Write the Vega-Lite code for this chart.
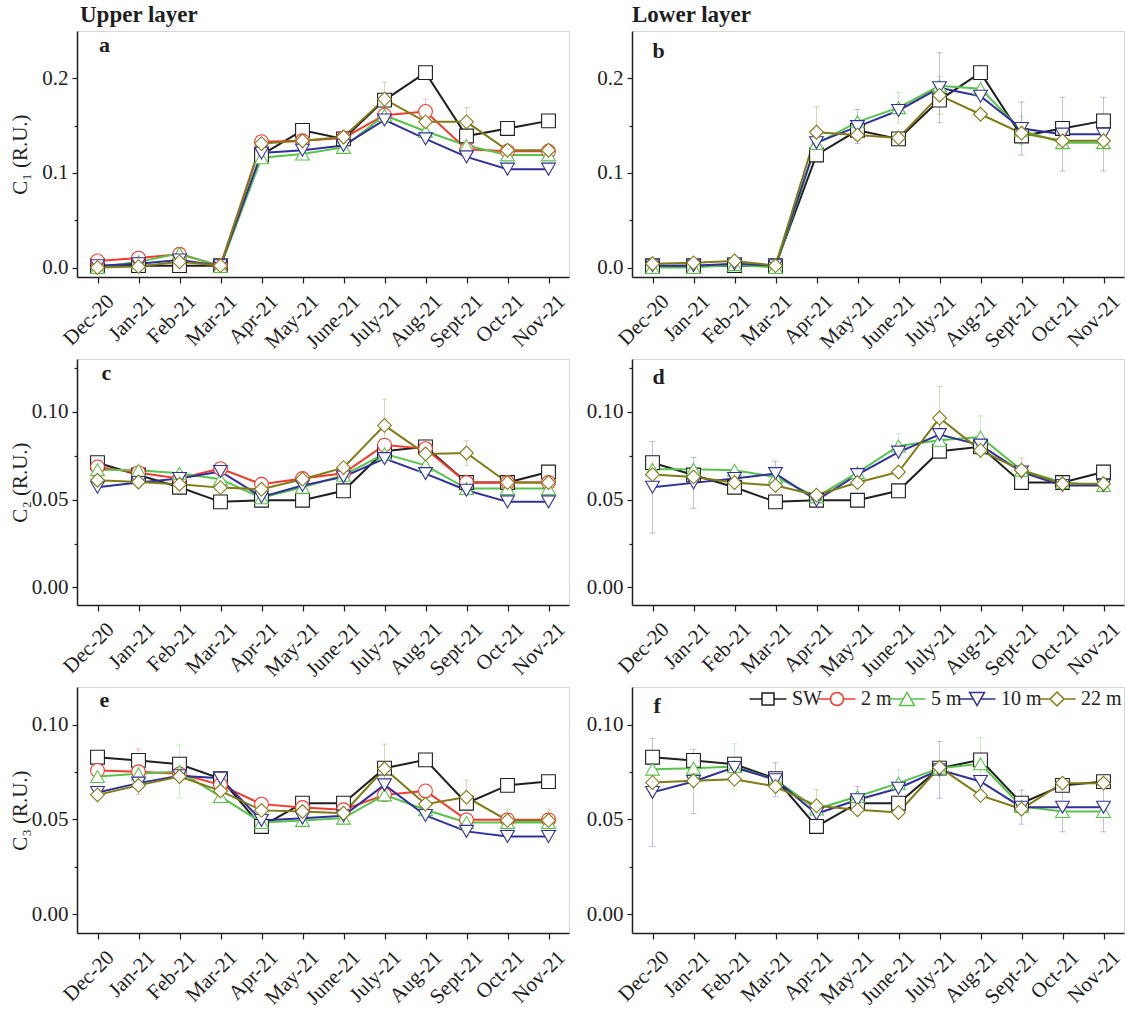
{
  "$schema": "https://vega.github.io/schema/vega-lite/v6.json",
  "padding": {"left": 8, "top": 3, "right": 0, "bottom": 0},
  "spacing": {"row": 5, "column": 15},
  "columns": 2,
  "align": "each",
  "resolve": {"scale": {"color": "independent", "shape": "independent"}},
  "config": {
    "view": {"stroke": "#d6d6d6", "strokeWidth": 1},
    "axis": {
      "labelFont": "Liberation Serif", "labelFontSize": 21, "labelColor": "#1e1e1e",
      "titleFont": "Liberation Serif", "titleFontSize": 21, "titleFontWeight": "normal", "titleColor": "#1e1e1e",
      "domainColor": "#1e1e1e", "domainWidth": 1.5, "tickColor": "#1e1e1e", "tickWidth": 1.2,
      "tickSize": 5, "labelPadding": 4, "grid": false
    },
    "axisX": {"tickSize": 6, "labelAngle": -45, "labelAlign": "right", "labelBaseline": "middle", "labelOffset": 13, "labelPadding": 15},
    "title": {"font": "Liberation Serif", "fontSize": 23, "fontWeight": "bold", "color": "#1e1e1e", "anchor": "start", "frame": "group"},
    "text": {"font": "Liberation Serif", "fontWeight": "bold", "fontSize": 22, "color": "#1e1e1e"}
  },
  "datasets": {
    "vals": [
      {"p":"a","s":"SW","m":"Dec-20","v":0.002},{"p":"a","s":"SW","m":"Jan-21","v":0.002},{"p":"a","s":"SW","m":"Feb-21","v":0.002},{"p":"a","s":"SW","m":"Mar-21","v":0.002},{"p":"a","s":"SW","m":"Apr-21","v":0.119},{"p":"a","s":"SW","m":"May-21","v":0.145},{"p":"a","s":"SW","m":"June-21","v":0.136},{"p":"a","s":"SW","m":"July-21","v":0.177},{"p":"a","s":"SW","m":"Aug-21","v":0.206},{"p":"a","s":"SW","m":"Sept-21","v":0.139},{"p":"a","s":"SW","m":"Oct-21","v":0.147},{"p":"a","s":"SW","m":"Nov-21","v":0.155},
      {"p":"a","s":"2 m","m":"Dec-20","v":0.007},{"p":"a","s":"2 m","m":"Jan-21","v":0.010},{"p":"a","s":"2 m","m":"Feb-21","v":0.014},{"p":"a","s":"2 m","m":"Mar-21","v":0.002},{"p":"a","s":"2 m","m":"Apr-21","v":0.133},{"p":"a","s":"2 m","m":"May-21","v":0.134},{"p":"a","s":"2 m","m":"June-21","v":0.137},{"p":"a","s":"2 m","m":"July-21","v":0.161},{"p":"a","s":"2 m","m":"Aug-21","v":0.165,"e":0.013},{"p":"a","s":"2 m","m":"Sept-21","v":0.125},{"p":"a","s":"2 m","m":"Oct-21","v":0.123},{"p":"a","s":"2 m","m":"Nov-21","v":0.123},
      {"p":"a","s":"5 m","m":"Dec-20","v":0.000},{"p":"a","s":"5 m","m":"Jan-21","v":0.006},{"p":"a","s":"5 m","m":"Feb-21","v":0.015},{"p":"a","s":"5 m","m":"Mar-21","v":0.001},{"p":"a","s":"5 m","m":"Apr-21","v":0.116},{"p":"a","s":"5 m","m":"May-21","v":0.120},{"p":"a","s":"5 m","m":"June-21","v":0.127},{"p":"a","s":"5 m","m":"July-21","v":0.161},{"p":"a","s":"5 m","m":"Aug-21","v":0.144},{"p":"a","s":"5 m","m":"Sept-21","v":0.129},{"p":"a","s":"5 m","m":"Oct-21","v":0.119},{"p":"a","s":"5 m","m":"Nov-21","v":0.119},
      {"p":"a","s":"10 m","m":"Dec-20","v":0.002},{"p":"a","s":"10 m","m":"Jan-21","v":0.004},{"p":"a","s":"10 m","m":"Feb-21","v":0.008},{"p":"a","s":"10 m","m":"Mar-21","v":0.002},{"p":"a","s":"10 m","m":"Apr-21","v":0.121},{"p":"a","s":"10 m","m":"May-21","v":0.124},{"p":"a","s":"10 m","m":"June-21","v":0.129},{"p":"a","s":"10 m","m":"July-21","v":0.156},{"p":"a","s":"10 m","m":"Aug-21","v":0.136},{"p":"a","s":"10 m","m":"Sept-21","v":0.117},{"p":"a","s":"10 m","m":"Oct-21","v":0.104},{"p":"a","s":"10 m","m":"Nov-21","v":0.104},
      {"p":"a","s":"22 m","m":"Dec-20","v":0.000},{"p":"a","s":"22 m","m":"Jan-21","v":0.001},{"p":"a","s":"22 m","m":"Feb-21","v":0.006},{"p":"a","s":"22 m","m":"Mar-21","v":0.002},{"p":"a","s":"22 m","m":"Apr-21","v":0.131},{"p":"a","s":"22 m","m":"May-21","v":0.134},{"p":"a","s":"22 m","m":"June-21","v":0.138},{"p":"a","s":"22 m","m":"July-21","v":0.178,"e":0.018},{"p":"a","s":"22 m","m":"Aug-21","v":0.154},{"p":"a","s":"22 m","m":"Sept-21","v":0.154,"e":0.015},{"p":"a","s":"22 m","m":"Oct-21","v":0.124},{"p":"a","s":"22 m","m":"Nov-21","v":0.124},

      {"p":"b","s":"SW","m":"Dec-20","v":0.002},{"p":"b","s":"SW","m":"Jan-21","v":0.002},{"p":"b","s":"SW","m":"Feb-21","v":0.002},{"p":"b","s":"SW","m":"Mar-21","v":0.002},{"p":"b","s":"SW","m":"Apr-21","v":0.119},{"p":"b","s":"SW","m":"May-21","v":0.145},{"p":"b","s":"SW","m":"June-21","v":0.136},{"p":"b","s":"SW","m":"July-21","v":0.177},{"p":"b","s":"SW","m":"Aug-21","v":0.206},{"p":"b","s":"SW","m":"Sept-21","v":0.139},{"p":"b","s":"SW","m":"Oct-21","v":0.147},{"p":"b","s":"SW","m":"Nov-21","v":0.155},
      {"p":"b","s":"5 m","m":"Dec-20","v":0.000},{"p":"b","s":"5 m","m":"Jan-21","v":0.000},{"p":"b","s":"5 m","m":"Feb-21","v":0.003},{"p":"b","s":"5 m","m":"Mar-21","v":0.000},{"p":"b","s":"5 m","m":"Apr-21","v":0.131},{"p":"b","s":"5 m","m":"May-21","v":0.154},{"p":"b","s":"5 m","m":"June-21","v":0.169,"e":0.016},{"p":"b","s":"5 m","m":"July-21","v":0.192},{"p":"b","s":"5 m","m":"Aug-21","v":0.189,"e":0.025},{"p":"b","s":"5 m","m":"Sept-21","v":0.145,"e":0.015},{"p":"b","s":"5 m","m":"Oct-21","v":0.132},{"p":"b","s":"5 m","m":"Nov-21","v":0.132},
      {"p":"b","s":"10 m","m":"Dec-20","v":0.002},{"p":"b","s":"10 m","m":"Jan-21","v":0.002},{"p":"b","s":"10 m","m":"Feb-21","v":0.004},{"p":"b","s":"10 m","m":"Mar-21","v":0.002},{"p":"b","s":"10 m","m":"Apr-21","v":0.132},{"p":"b","s":"10 m","m":"May-21","v":0.149,"e":0.018},{"p":"b","s":"10 m","m":"June-21","v":0.166},{"p":"b","s":"10 m","m":"July-21","v":0.190,"e":0.037},{"p":"b","s":"10 m","m":"Aug-21","v":0.181},{"p":"b","s":"10 m","m":"Sept-21","v":0.147,"e":0.028},{"p":"b","s":"10 m","m":"Oct-21","v":0.141,"e":0.039},{"p":"b","s":"10 m","m":"Nov-21","v":0.141,"e":0.039},
      {"p":"b","s":"22 m","m":"Dec-20","v":0.004},{"p":"b","s":"22 m","m":"Jan-21","v":0.005},{"p":"b","s":"22 m","m":"Feb-21","v":0.007},{"p":"b","s":"22 m","m":"Mar-21","v":0.002},{"p":"b","s":"22 m","m":"Apr-21","v":0.143,"e":0.027},{"p":"b","s":"22 m","m":"May-21","v":0.140},{"p":"b","s":"22 m","m":"June-21","v":0.137},{"p":"b","s":"22 m","m":"July-21","v":0.182,"e":0.020},{"p":"b","s":"22 m","m":"Aug-21","v":0.162},{"p":"b","s":"22 m","m":"Sept-21","v":0.142},{"p":"b","s":"22 m","m":"Oct-21","v":0.134},{"p":"b","s":"22 m","m":"Nov-21","v":0.134},

      {"p":"c","s":"SW","m":"Dec-20","v":0.071},{"p":"c","s":"SW","m":"Jan-21","v":0.064},{"p":"c","s":"SW","m":"Feb-21","v":0.057},{"p":"c","s":"SW","m":"Mar-21","v":0.0487},{"p":"c","s":"SW","m":"Apr-21","v":0.0496},{"p":"c","s":"SW","m":"May-21","v":0.0496},{"p":"c","s":"SW","m":"June-21","v":0.055},{"p":"c","s":"SW","m":"July-21","v":0.0775},{"p":"c","s":"SW","m":"Aug-21","v":0.080},{"p":"c","s":"SW","m":"Sept-21","v":0.0597},{"p":"c","s":"SW","m":"Oct-21","v":0.0597},{"p":"c","s":"SW","m":"Nov-21","v":0.0657},
      {"p":"c","s":"2 m","m":"Dec-20","v":0.0686},{"p":"c","s":"2 m","m":"Jan-21","v":0.0653},{"p":"c","s":"2 m","m":"Feb-21","v":0.062},{"p":"c","s":"2 m","m":"Mar-21","v":0.0676},{"p":"c","s":"2 m","m":"Apr-21","v":0.0587},{"p":"c","s":"2 m","m":"May-21","v":0.062},{"p":"c","s":"2 m","m":"June-21","v":0.065},{"p":"c","s":"2 m","m":"July-21","v":0.081},{"p":"c","s":"2 m","m":"Aug-21","v":0.079,"e":0.005},{"p":"c","s":"2 m","m":"Sept-21","v":0.0597},{"p":"c","s":"2 m","m":"Oct-21","v":0.0597},{"p":"c","s":"2 m","m":"Nov-21","v":0.0597},
      {"p":"c","s":"5 m","m":"Dec-20","v":0.067},{"p":"c","s":"5 m","m":"Jan-21","v":0.0667},{"p":"c","s":"5 m","m":"Feb-21","v":0.065},{"p":"c","s":"5 m","m":"Mar-21","v":0.0616},{"p":"c","s":"5 m","m":"Apr-21","v":0.051},{"p":"c","s":"5 m","m":"May-21","v":0.057},{"p":"c","s":"5 m","m":"June-21","v":0.0638},{"p":"c","s":"5 m","m":"July-21","v":0.076},{"p":"c","s":"5 m","m":"Aug-21","v":0.0695},{"p":"c","s":"5 m","m":"Sept-21","v":0.0563},{"p":"c","s":"5 m","m":"Oct-21","v":0.0563},{"p":"c","s":"5 m","m":"Nov-21","v":0.0563},
      {"p":"c","s":"10 m","m":"Dec-20","v":0.057},{"p":"c","s":"10 m","m":"Jan-21","v":0.0597},{"p":"c","s":"10 m","m":"Feb-21","v":0.062},{"p":"c","s":"10 m","m":"Mar-21","v":0.066},{"p":"c","s":"10 m","m":"Apr-21","v":0.0515},{"p":"c","s":"10 m","m":"May-21","v":0.058},{"p":"c","s":"10 m","m":"June-21","v":0.0629},{"p":"c","s":"10 m","m":"July-21","v":0.0733},{"p":"c","s":"10 m","m":"Aug-21","v":0.0648},{"p":"c","s":"10 m","m":"Sept-21","v":0.0553},{"p":"c","s":"10 m","m":"Oct-21","v":0.0487},{"p":"c","s":"10 m","m":"Nov-21","v":0.0487},
      {"p":"c","s":"22 m","m":"Dec-20","v":0.061},{"p":"c","s":"22 m","m":"Jan-21","v":0.060},{"p":"c","s":"22 m","m":"Feb-21","v":0.0587},{"p":"c","s":"22 m","m":"Mar-21","v":0.0568},{"p":"c","s":"22 m","m":"Apr-21","v":0.0559},{"p":"c","s":"22 m","m":"May-21","v":0.0616},{"p":"c","s":"22 m","m":"June-21","v":0.0682},{"p":"c","s":"22 m","m":"July-21","v":0.0922,"e":0.015},{"p":"c","s":"22 m","m":"Aug-21","v":0.076},{"p":"c","s":"22 m","m":"Sept-21","v":0.0765,"e":0.007},{"p":"c","s":"22 m","m":"Oct-21","v":0.0597},{"p":"c","s":"22 m","m":"Nov-21","v":0.0597},

      {"p":"d","s":"SW","m":"Dec-20","v":0.071},{"p":"d","s":"SW","m":"Jan-21","v":0.064},{"p":"d","s":"SW","m":"Feb-21","v":0.057},{"p":"d","s":"SW","m":"Mar-21","v":0.0487},{"p":"d","s":"SW","m":"Apr-21","v":0.0496},{"p":"d","s":"SW","m":"May-21","v":0.0496},{"p":"d","s":"SW","m":"June-21","v":0.055},{"p":"d","s":"SW","m":"July-21","v":0.0775},{"p":"d","s":"SW","m":"Aug-21","v":0.080},{"p":"d","s":"SW","m":"Sept-21","v":0.0597},{"p":"d","s":"SW","m":"Oct-21","v":0.0597},{"p":"d","s":"SW","m":"Nov-21","v":0.0657},
      {"p":"d","s":"5 m","m":"Dec-20","v":0.0672},{"p":"d","s":"5 m","m":"Jan-21","v":0.0672},{"p":"d","s":"5 m","m":"Feb-21","v":0.0667},{"p":"d","s":"5 m","m":"Mar-21","v":0.0629},{"p":"d","s":"5 m","m":"Apr-21","v":0.0515},{"p":"d","s":"5 m","m":"May-21","v":0.0653},{"p":"d","s":"5 m","m":"June-21","v":0.0805,"e":0.007},{"p":"d","s":"5 m","m":"July-21","v":0.0837},{"p":"d","s":"5 m","m":"Aug-21","v":0.0856,"e":0.012},{"p":"d","s":"5 m","m":"Sept-21","v":0.0667},{"p":"d","s":"5 m","m":"Oct-21","v":0.0597},{"p":"d","s":"5 m","m":"Nov-21","v":0.058},
      {"p":"d","s":"10 m","m":"Dec-20","v":0.057,"e":0.026},{"p":"d","s":"10 m","m":"Jan-21","v":0.0595,"e":0.0145},{"p":"d","s":"10 m","m":"Feb-21","v":0.062},{"p":"d","s":"10 m","m":"Mar-21","v":0.0648,"e":0.007},{"p":"d","s":"10 m","m":"Apr-21","v":0.0496},{"p":"d","s":"10 m","m":"May-21","v":0.0642},{"p":"d","s":"10 m","m":"June-21","v":0.077},{"p":"d","s":"10 m","m":"July-21","v":0.087,"e":0.010},{"p":"d","s":"10 m","m":"Aug-21","v":0.081},{"p":"d","s":"10 m","m":"Sept-21","v":0.0657},{"p":"d","s":"10 m","m":"Oct-21","v":0.058},{"p":"d","s":"10 m","m":"Nov-21","v":0.058},
      {"p":"d","s":"22 m","m":"Dec-20","v":0.0642},{"p":"d","s":"22 m","m":"Jan-21","v":0.0629},{"p":"d","s":"22 m","m":"Feb-21","v":0.0597},{"p":"d","s":"22 m","m":"Mar-21","v":0.058},{"p":"d","s":"22 m","m":"Apr-21","v":0.0525},{"p":"d","s":"22 m","m":"May-21","v":0.0597},{"p":"d","s":"22 m","m":"June-21","v":0.0657},{"p":"d","s":"22 m","m":"July-21","v":0.0964,"e":0.018},{"p":"d","s":"22 m","m":"Aug-21","v":0.078},{"p":"d","s":"22 m","m":"Sept-21","v":0.0667,"e":0.007},{"p":"d","s":"22 m","m":"Oct-21","v":0.059},{"p":"d","s":"22 m","m":"Nov-21","v":0.059},

      {"p":"e","s":"SW","m":"Dec-20","v":0.0829},{"p":"e","s":"SW","m":"Jan-21","v":0.0812},{"p":"e","s":"SW","m":"Feb-21","v":0.0792},{"p":"e","s":"SW","m":"Mar-21","v":0.0716},{"p":"e","s":"SW","m":"Apr-21","v":0.0463},{"p":"e","s":"SW","m":"May-21","v":0.0586},{"p":"e","s":"SW","m":"June-21","v":0.0586},{"p":"e","s":"SW","m":"July-21","v":0.0771},{"p":"e","s":"SW","m":"Aug-21","v":0.0815},{"p":"e","s":"SW","m":"Sept-21","v":0.0586},{"p":"e","s":"SW","m":"Oct-21","v":0.068},{"p":"e","s":"SW","m":"Nov-21","v":0.070},
      {"p":"e","s":"2 m","m":"Dec-20","v":0.0759},{"p":"e","s":"2 m","m":"Jan-21","v":0.0752,"e":0.012},{"p":"e","s":"2 m","m":"Feb-21","v":0.0741},{"p":"e","s":"2 m","m":"Mar-21","v":0.0683},{"p":"e","s":"2 m","m":"Apr-21","v":0.0581},{"p":"e","s":"2 m","m":"May-21","v":0.0563},{"p":"e","s":"2 m","m":"June-21","v":0.0551},{"p":"e","s":"2 m","m":"July-21","v":0.063},{"p":"e","s":"2 m","m":"Aug-21","v":0.0651},{"p":"e","s":"2 m","m":"Sept-21","v":0.0498},{"p":"e","s":"2 m","m":"Oct-21","v":0.0498},{"p":"e","s":"2 m","m":"Nov-21","v":0.0498},
      {"p":"e","s":"5 m","m":"Dec-20","v":0.0727},{"p":"e","s":"5 m","m":"Jan-21","v":0.0741},{"p":"e","s":"5 m","m":"Feb-21","v":0.0754,"e":0.014},{"p":"e","s":"5 m","m":"Mar-21","v":0.0621},{"p":"e","s":"5 m","m":"Apr-21","v":0.0484},{"p":"e","s":"5 m","m":"May-21","v":0.0495},{"p":"e","s":"5 m","m":"June-21","v":0.0507},{"p":"e","s":"5 m","m":"July-21","v":0.063},{"p":"e","s":"5 m","m":"Aug-21","v":0.0551},{"p":"e","s":"5 m","m":"Sept-21","v":0.0484},{"p":"e","s":"5 m","m":"Oct-21","v":0.0484},{"p":"e","s":"5 m","m":"Nov-21","v":0.0484},
      {"p":"e","s":"10 m","m":"Dec-20","v":0.0643},{"p":"e","s":"10 m","m":"Jan-21","v":0.0692},{"p":"e","s":"10 m","m":"Feb-21","v":0.0731},{"p":"e","s":"10 m","m":"Mar-21","v":0.0718},{"p":"e","s":"10 m","m":"Apr-21","v":0.0495},{"p":"e","s":"10 m","m":"May-21","v":0.0507},{"p":"e","s":"10 m","m":"June-21","v":0.0519},{"p":"e","s":"10 m","m":"July-21","v":0.0683},{"p":"e","s":"10 m","m":"Aug-21","v":0.0521},{"p":"e","s":"10 m","m":"Sept-21","v":0.0437},{"p":"e","s":"10 m","m":"Oct-21","v":0.041},{"p":"e","s":"10 m","m":"Nov-21","v":0.041},
      {"p":"e","s":"22 m","m":"Dec-20","v":0.063},{"p":"e","s":"22 m","m":"Jan-21","v":0.068},{"p":"e","s":"22 m","m":"Feb-21","v":0.0727},{"p":"e","s":"22 m","m":"Mar-21","v":0.0651},{"p":"e","s":"22 m","m":"Apr-21","v":0.0548},{"p":"e","s":"22 m","m":"May-21","v":0.0542},{"p":"e","s":"22 m","m":"June-21","v":0.0533},{"p":"e","s":"22 m","m":"July-21","v":0.0768,"e":0.013},{"p":"e","s":"22 m","m":"Aug-21","v":0.0581},{"p":"e","s":"22 m","m":"Sept-21","v":0.0618,"e":0.009},{"p":"e","s":"22 m","m":"Oct-21","v":0.0495,"e":0.006},{"p":"e","s":"22 m","m":"Nov-21","v":0.0495,"e":0.006},

      {"p":"f","s":"SW","m":"Dec-20","v":0.0829},{"p":"f","s":"SW","m":"Jan-21","v":0.0812},{"p":"f","s":"SW","m":"Feb-21","v":0.0792},{"p":"f","s":"SW","m":"Mar-21","v":0.0716},{"p":"f","s":"SW","m":"Apr-21","v":0.0463},{"p":"f","s":"SW","m":"May-21","v":0.0586},{"p":"f","s":"SW","m":"June-21","v":0.0586},{"p":"f","s":"SW","m":"July-21","v":0.0771},{"p":"f","s":"SW","m":"Aug-21","v":0.0815},{"p":"f","s":"SW","m":"Sept-21","v":0.0586},{"p":"f","s":"SW","m":"Oct-21","v":0.068},{"p":"f","s":"SW","m":"Nov-21","v":0.070},
      {"p":"f","s":"5 m","m":"Dec-20","v":0.0766},{"p":"f","s":"5 m","m":"Jan-21","v":0.0771},{"p":"f","s":"5 m","m":"Feb-21","v":0.078,"e":0.012},{"p":"f","s":"5 m","m":"Mar-21","v":0.071},{"p":"f","s":"5 m","m":"Apr-21","v":0.0555},{"p":"f","s":"5 m","m":"May-21","v":0.0621},{"p":"f","s":"5 m","m":"June-21","v":0.0692,"e":0.007},{"p":"f","s":"5 m","m":"July-21","v":0.0771},{"p":"f","s":"5 m","m":"Aug-21","v":0.0794,"e":0.014},{"p":"f","s":"5 m","m":"Sept-21","v":0.0569},{"p":"f","s":"5 m","m":"Oct-21","v":0.0542},{"p":"f","s":"5 m","m":"Nov-21","v":0.0542},
      {"p":"f","s":"10 m","m":"Dec-20","v":0.0643,"e":0.0285},{"p":"f","s":"10 m","m":"Jan-21","v":0.0701,"e":0.017},{"p":"f","s":"10 m","m":"Feb-21","v":0.0775},{"p":"f","s":"10 m","m":"Mar-21","v":0.071,"e":0.009},{"p":"f","s":"10 m","m":"Apr-21","v":0.053},{"p":"f","s":"10 m","m":"May-21","v":0.0604,"e":0.007},{"p":"f","s":"10 m","m":"June-21","v":0.0665},{"p":"f","s":"10 m","m":"July-21","v":0.0762,"e":0.015},{"p":"f","s":"10 m","m":"Aug-21","v":0.0701},{"p":"f","s":"10 m","m":"Sept-21","v":0.0565,"e":0.009},{"p":"f","s":"10 m","m":"Oct-21","v":0.0565,"e":0.013},{"p":"f","s":"10 m","m":"Nov-21","v":0.0565,"e":0.013},
      {"p":"f","s":"22 m","m":"Dec-20","v":0.0695},{"p":"f","s":"22 m","m":"Jan-21","v":0.0704},{"p":"f","s":"22 m","m":"Feb-21","v":0.0713},{"p":"f","s":"22 m","m":"Mar-21","v":0.0674},{"p":"f","s":"22 m","m":"Apr-21","v":0.0572,"e":0.0085},{"p":"f","s":"22 m","m":"May-21","v":0.0551},{"p":"f","s":"22 m","m":"June-21","v":0.0537},{"p":"f","s":"22 m","m":"July-21","v":0.0775},{"p":"f","s":"22 m","m":"Aug-21","v":0.0627},{"p":"f","s":"22 m","m":"Sept-21","v":0.0555},{"p":"f","s":"22 m","m":"Oct-21","v":0.0692},{"p":"f","s":"22 m","m":"Nov-21","v":0.0692}
    ]
  },
  "concat": [
    {
      "width": 492, "height": 246,
      "title": {"text": "Upper layer", "dx": 3, "offset": 4},
      "data": {"name": "vals"},
      "transform": [{"filter": "datum.p === 'a'"}],
      "resolve": {"axis": {"y": "independent"}},
      "encoding": {
        "x": {"field": "m", "type": "ordinal", "scale": {"type": "point", "padding": 0.5, "domain": ["Dec-20","Jan-21","Feb-21","Mar-21","Apr-21","May-21","June-21","July-21","Aug-21","Sept-21","Oct-21","Nov-21"]}, "axis": {"title": null}},
        "color": {"field": "s", "type": "nominal", "scale": {"domain": ["SW","2 m","5 m","10 m","22 m"], "range": ["#1f1f1f","#f23a2e","#58c34a","#30309a","#7f7b17"]}, "legend": null}
      },
      "layer": [
        {"transform": [{"filter": "isValid(datum.e)"}], "mark": {"type": "errorbar", "ticks": {"size": 6}, "opacity": 0.3, "thickness": 1}, "encoding": {"y": {"field": "v", "type": "quantitative", "scale": {"domain": [-0.01, 0.25], "nice": false, "zero": false}, "axis": null}, "yError": {"field": "e"}}},
        {"mark": {"type": "line", "strokeWidth": 2}, "encoding": {"y": {"field": "v", "type": "quantitative", "scale": {"domain": [-0.01, 0.25], "nice": false, "zero": false}, "axis": {"orient": "left", "title": "C₁ (R.U.)", "values": [0, 0.1, 0.2], "format": ".1f", "minExtent": 44, "maxExtent": 44, "titlePadding": 3}}}},
        {"mark": {"type": "point", "filled": false, "fill": "white", "fillOpacity": 1, "opacity": 1, "strokeWidth": 1.1, "size": 190}, "encoding": {"y": {"field": "v", "type": "quantitative", "scale": {"domain": [-0.01, 0.25], "nice": false, "zero": false}, "axis": {"orient": "left", "title": null, "values": [0.05, 0.15], "labels": false, "domain": false, "tickSize": 3}}, "shape": {"field": "s", "type": "nominal", "scale": {"domain": ["SW","2 m","5 m","10 m","22 m"], "range": ["square","circle","triangle-up","triangle-down","diamond"]}, "legend": null}}},
        {"transform": [{"filter": "datum.s === 'SW' && datum.m === 'Dec-20'"}], "mark": {"type": "text", "align": "left", "baseline": "alphabetic", "dx": 1.5}, "encoding": {"y": {"datum": 0.2274, "axis": null}, "text": {"value": "a"}, "color": {"value": "#1e1e1e"}}}
      ]
    },
    {
      "width": 492, "height": 246,
      "title": {"text": "Lower layer", "dx": 0, "offset": 4},
      "data": {"name": "vals"},
      "transform": [{"filter": "datum.p === 'b'"}],
      "resolve": {"axis": {"y": "independent"}},
      "encoding": {
        "x": {"field": "m", "type": "ordinal", "scale": {"type": "point", "padding": 0.5, "domain": ["Dec-20","Jan-21","Feb-21","Mar-21","Apr-21","May-21","June-21","July-21","Aug-21","Sept-21","Oct-21","Nov-21"]}, "axis": {"title": null}},
        "color": {"field": "s", "type": "nominal", "scale": {"domain": ["SW","2 m","5 m","10 m","22 m"], "range": ["#1f1f1f","#f23a2e","#58c34a","#30309a","#7f7b17"]}, "legend": null}
      },
      "layer": [
        {"transform": [{"filter": "isValid(datum.e)"}], "mark": {"type": "errorbar", "ticks": {"size": 6}, "opacity": 0.3, "thickness": 1}, "encoding": {"y": {"field": "v", "type": "quantitative", "scale": {"domain": [-0.01, 0.25], "nice": false, "zero": false}, "axis": null}, "yError": {"field": "e"}}},
        {"mark": {"type": "line", "strokeWidth": 2}, "encoding": {"y": {"field": "v", "type": "quantitative", "scale": {"domain": [-0.01, 0.25], "nice": false, "zero": false}, "axis": {"orient": "left", "title": null, "values": [0, 0.1, 0.2], "format": ".1f"}}}},
        {"mark": {"type": "point", "filled": false, "fill": "white", "fillOpacity": 1, "opacity": 1, "strokeWidth": 1.1, "size": 190}, "encoding": {"y": {"field": "v", "type": "quantitative", "scale": {"domain": [-0.01, 0.25], "nice": false, "zero": false}, "axis": {"orient": "left", "title": null, "values": [0.05, 0.15], "labels": false, "domain": false, "tickSize": 3}}, "shape": {"field": "s", "type": "nominal", "scale": {"domain": ["SW","2 m","5 m","10 m","22 m"], "range": ["square","circle","triangle-up","triangle-down","diamond"]}, "legend": null}}},
        {"transform": [{"filter": "datum.s === 'SW' && datum.m === 'Dec-20'"}], "mark": {"type": "text", "align": "left", "baseline": "alphabetic", "dx": 0}, "encoding": {"y": {"datum": 0.2211, "axis": null}, "text": {"value": "b"}, "color": {"value": "#1e1e1e"}}}
      ]
    },
    {
      "width": 492, "height": 246,
      "data": {"name": "vals"},
      "transform": [{"filter": "datum.p === 'c'"}],
      "resolve": {"axis": {"y": "independent"}},
      "encoding": {
        "x": {"field": "m", "type": "ordinal", "scale": {"type": "point", "padding": 0.5, "domain": ["Dec-20","Jan-21","Feb-21","Mar-21","Apr-21","May-21","June-21","July-21","Aug-21","Sept-21","Oct-21","Nov-21"]}, "axis": {"title": null}},
        "color": {"field": "s", "type": "nominal", "scale": {"domain": ["SW","2 m","5 m","10 m","22 m"], "range": ["#1f1f1f","#f23a2e","#58c34a","#30309a","#7f7b17"]}, "legend": null}
      },
      "layer": [
        {"transform": [{"filter": "isValid(datum.e)"}], "mark": {"type": "errorbar", "ticks": {"size": 6}, "opacity": 0.3, "thickness": 1}, "encoding": {"y": {"field": "v", "type": "quantitative", "scale": {"domain": [-0.01, 0.13], "nice": false, "zero": false}, "axis": null}, "yError": {"field": "e"}}},
        {"mark": {"type": "line", "strokeWidth": 2}, "encoding": {"y": {"field": "v", "type": "quantitative", "scale": {"domain": [-0.01, 0.13], "nice": false, "zero": false}, "axis": {"orient": "left", "title": "C₂ (R.U.)", "values": [0, 0.05, 0.1], "format": ".2f", "minExtent": 44, "maxExtent": 44, "titlePadding": 3}}}},
        {"mark": {"type": "point", "filled": false, "fill": "white", "fillOpacity": 1, "opacity": 1, "strokeWidth": 1.1, "size": 190}, "encoding": {"y": {"field": "v", "type": "quantitative", "scale": {"domain": [-0.01, 0.13], "nice": false, "zero": false}, "axis": {"orient": "left", "title": null, "values": [0.025, 0.075, 0.125], "labels": false, "domain": false, "tickSize": 3}}, "shape": {"field": "s", "type": "nominal", "scale": {"domain": ["SW","2 m","5 m","10 m","22 m"], "range": ["square","circle","triangle-up","triangle-down","diamond"]}, "legend": null}}},
        {"transform": [{"filter": "datum.s === 'SW' && datum.m === 'Dec-20'"}], "mark": {"type": "text", "align": "left", "baseline": "alphabetic", "dx": 4}, "encoding": {"y": {"datum": 0.1178, "axis": null}, "text": {"value": "c"}, "color": {"value": "#1e1e1e"}}}
      ]
    },
    {
      "width": 492, "height": 246,
      "data": {"name": "vals"},
      "transform": [{"filter": "datum.p === 'd'"}],
      "resolve": {"axis": {"y": "independent"}},
      "encoding": {
        "x": {"field": "m", "type": "ordinal", "scale": {"type": "point", "padding": 0.5, "domain": ["Dec-20","Jan-21","Feb-21","Mar-21","Apr-21","May-21","June-21","July-21","Aug-21","Sept-21","Oct-21","Nov-21"]}, "axis": {"title": null}},
        "color": {"field": "s", "type": "nominal", "scale": {"domain": ["SW","2 m","5 m","10 m","22 m"], "range": ["#1f1f1f","#f23a2e","#58c34a","#30309a","#7f7b17"]}, "legend": null}
      },
      "layer": [
        {"transform": [{"filter": "isValid(datum.e)"}], "mark": {"type": "errorbar", "ticks": {"size": 6}, "opacity": 0.3, "thickness": 1}, "encoding": {"y": {"field": "v", "type": "quantitative", "scale": {"domain": [-0.01, 0.13], "nice": false, "zero": false}, "axis": null}, "yError": {"field": "e"}}},
        {"mark": {"type": "line", "strokeWidth": 2}, "encoding": {"y": {"field": "v", "type": "quantitative", "scale": {"domain": [-0.01, 0.13], "nice": false, "zero": false}, "axis": {"orient": "left", "title": null, "values": [0, 0.05, 0.1], "format": ".2f"}}}},
        {"mark": {"type": "point", "filled": false, "fill": "white", "fillOpacity": 1, "opacity": 1, "strokeWidth": 1.1, "size": 190}, "encoding": {"y": {"field": "v", "type": "quantitative", "scale": {"domain": [-0.01, 0.13], "nice": false, "zero": false}, "axis": {"orient": "left", "title": null, "values": [0.025, 0.075, 0.125], "labels": false, "domain": false, "tickSize": 3}}, "shape": {"field": "s", "type": "nominal", "scale": {"domain": ["SW","2 m","5 m","10 m","22 m"], "range": ["square","circle","triangle-up","triangle-down","diamond"]}, "legend": null}}},
        {"transform": [{"filter": "datum.s === 'SW' && datum.m === 'Dec-20'"}], "mark": {"type": "text", "align": "left", "baseline": "alphabetic", "dx": 0}, "encoding": {"y": {"datum": 0.1159, "axis": null}, "text": {"value": "d"}, "color": {"value": "#1e1e1e"}}}
      ]
    },
    {
      "width": 492, "height": 246,
      "data": {"name": "vals"},
      "transform": [{"filter": "datum.p === 'e'"}],
      "resolve": {"axis": {"y": "independent"}},
      "encoding": {
        "x": {"field": "m", "type": "ordinal", "scale": {"type": "point", "padding": 0.5, "domain": ["Dec-20","Jan-21","Feb-21","Mar-21","Apr-21","May-21","June-21","July-21","Aug-21","Sept-21","Oct-21","Nov-21"]}, "axis": {"title": null}},
        "color": {"field": "s", "type": "nominal", "scale": {"domain": ["SW","2 m","5 m","10 m","22 m"], "range": ["#1f1f1f","#f23a2e","#58c34a","#30309a","#7f7b17"]}, "legend": null}
      },
      "layer": [
        {"transform": [{"filter": "isValid(datum.e)"}], "mark": {"type": "errorbar", "ticks": {"size": 6}, "opacity": 0.3, "thickness": 1}, "encoding": {"y": {"field": "v", "type": "quantitative", "scale": {"domain": [-0.01, 0.12], "nice": false, "zero": false}, "axis": null}, "yError": {"field": "e"}}},
        {"mark": {"type": "line", "strokeWidth": 2}, "encoding": {"y": {"field": "v", "type": "quantitative", "scale": {"domain": [-0.01, 0.12], "nice": false, "zero": false}, "axis": {"orient": "left", "title": "C₃ (R.U.)", "values": [0, 0.05, 0.1], "format": ".2f", "minExtent": 44, "maxExtent": 44, "titlePadding": 3}}}},
        {"mark": {"type": "point", "filled": false, "fill": "white", "fillOpacity": 1, "opacity": 1, "strokeWidth": 1.1, "size": 190}, "encoding": {"y": {"field": "v", "type": "quantitative", "scale": {"domain": [-0.01, 0.12], "nice": false, "zero": false}, "axis": {"orient": "left", "title": null, "values": [0.025, 0.075], "labels": false, "domain": false, "tickSize": 3}}, "shape": {"field": "s", "type": "nominal", "scale": {"domain": ["SW","2 m","5 m","10 m","22 m"], "range": ["square","circle","triangle-up","triangle-down","diamond"]}, "legend": null}}},
        {"transform": [{"filter": "datum.s === 'SW' && datum.m === 'Dec-20'"}], "mark": {"type": "text", "align": "left", "baseline": "alphabetic", "dx": 2}, "encoding": {"y": {"datum": 0.1094, "axis": null}, "text": {"value": "e"}, "color": {"value": "#1e1e1e"}}}
      ]
    },
    {
      "width": 492, "height": 246,
      "data": {"name": "vals"},
      "transform": [{"filter": "datum.p === 'f'"}],
      "resolve": {"axis": {"y": "independent"}, "scale": {"shape": "independent", "stroke": "independent"}},
      "encoding": {
        "x": {"field": "m", "type": "ordinal", "scale": {"type": "point", "padding": 0.5, "domain": ["Dec-20","Jan-21","Feb-21","Mar-21","Apr-21","May-21","June-21","July-21","Aug-21","Sept-21","Oct-21","Nov-21"]}, "axis": {"title": null}},
        "color": {"field": "s", "type": "nominal", "scale": {"domain": ["SW","2 m","5 m","10 m","22 m"], "range": ["#1f1f1f","#f23a2e","#58c34a","#30309a","#7f7b17"]}, "legend": null}
      },
      "layer": [
        {"transform": [{"filter": "isValid(datum.e)"}], "mark": {"type": "errorbar", "ticks": {"size": 6}, "opacity": 0.3, "thickness": 1}, "encoding": {"y": {"field": "v", "type": "quantitative", "scale": {"domain": [-0.01, 0.12], "nice": false, "zero": false}, "axis": null}, "yError": {"field": "e"}}},
        {"mark": {"type": "line", "strokeWidth": 2}, "encoding": {"y": {"field": "v", "type": "quantitative", "scale": {"domain": [-0.01, 0.12], "nice": false, "zero": false}, "axis": {"orient": "left", "title": null, "values": [0, 0.05, 0.1], "format": ".2f"}}}},
        {"mark": {"type": "point", "filled": false, "fill": "white", "fillOpacity": 1, "opacity": 1, "strokeWidth": 1.1, "size": 190}, "encoding": {"y": {"field": "v", "type": "quantitative", "scale": {"domain": [-0.01, 0.12], "nice": false, "zero": false}, "axis": {"orient": "left", "title": null, "values": [0.025, 0.075], "labels": false, "domain": false, "tickSize": 3}}, "shape": {"field": "s", "type": "nominal", "scale": {"domain": ["SW","2 m","5 m","10 m","22 m"], "range": ["square","circle","triangle-up","triangle-down","diamond"]}, "legend": null}}},
        {"mark": {"type": "point", "filled": false, "fill": "white", "opacity": 0, "strokeWidth": 1.5, "size": 225},
          "encoding": {
            "y": {"field": "v", "type": "quantitative", "scale": {"domain": [-0.01, 0.12], "nice": false, "zero": false}, "axis": null},
            "color": {"value": "#1e1e1e"},
            "stroke": {"field": "s", "type": "nominal", "scale": {"domain": ["SW","2 m","5 m","10 m","22 m"], "range": ["#1f1f1f","#f23a2e","#58c34a","#30309a","#7f7b17"]},
              "legend": {"orient": "top-right", "direction": "horizontal", "columns": 5, "title": null, "offset": 2, "padding": 0, "symbolSize": 225, "symbolStrokeWidth": 1.5, "symbolOpacity": 1, "symbolFillColor": "white", "labelFont": "Liberation Serif", "labelFontSize": 20, "labelColor": "#1e1e1e", "labelOffset": 14, "columnPadding": -7}},
            "shape": {"field": "s", "type": "nominal", "scale": {"domain": ["SW","2 m","5 m","10 m","22 m"], "range": [
                "M-2.47,0H-0.8M0.8,0H2.47M-0.8,-0.8H0.8V0.8H-0.8Z",
                "M-2.47,0H-0.87M0.87,0H2.47M0.87,0A0.87,0.87,0,1,1,-0.87,0A0.87,0.87,0,1,1,0.87,0Z",
                "M-2.47,0H-0.5M0.5,0H2.47M0,-0.87L1,0.87H-1Z",
                "M-2.47,0H-0.5M0.5,0H2.47M0,0.87L1,-0.87H-1Z",
                "M-2.47,0H-0.93M0.93,0H2.47M-0.93,0L0,-0.93L0.93,0L0,0.93Z"]},
              "legend": {"orient": "top-right", "direction": "horizontal", "columns": 5, "title": null, "offset": 2, "padding": 0, "symbolSize": 225, "symbolStrokeWidth": 1.5, "symbolOpacity": 1, "symbolFillColor": "white", "labelFont": "Liberation Serif", "labelFontSize": 20, "labelColor": "#1e1e1e", "labelOffset": 14, "columnPadding": -7}}
          }},
        {"transform": [{"filter": "datum.s === 'SW' && datum.m === 'Dec-20'"}], "mark": {"type": "text", "align": "left", "baseline": "alphabetic", "dx": 1}, "encoding": {"y": {"datum": 0.1065, "axis": null}, "text": {"value": "f"}, "color": {"value": "#1e1e1e"}}}
      ]
    }
  ]
}
